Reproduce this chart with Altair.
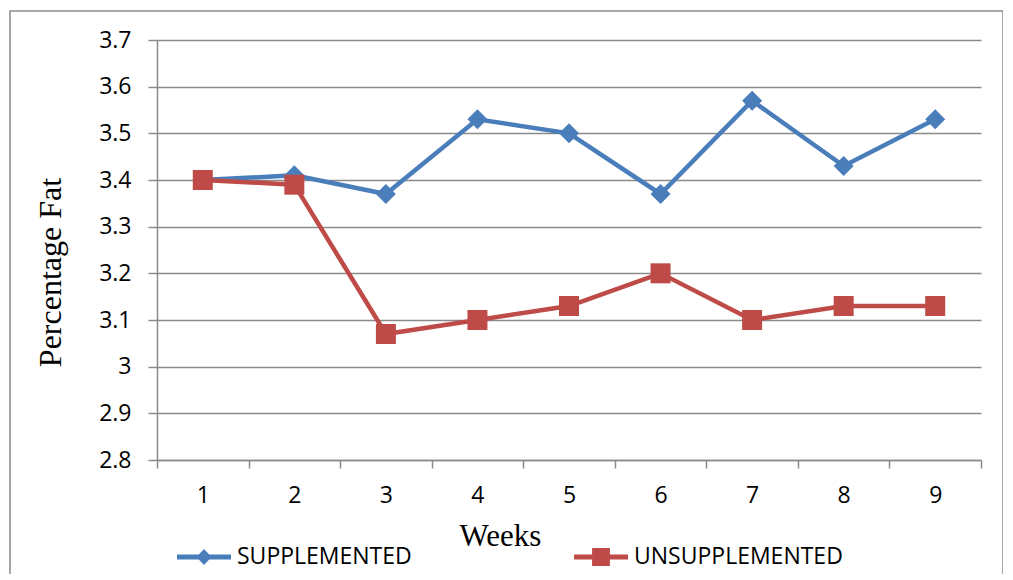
import altair as alt
import pandas as pd

weeks = [1, 2, 3, 4, 5, 6, 7, 8, 9]
series_names = ["SUPPLEMENTED", "UNSUPPLEMENTED"]
supplemented = [3.40, 3.41, 3.37, 3.53, 3.50, 3.37, 3.57, 3.43, 3.53]
unsupplemented = [3.40, 3.39, 3.07, 3.10, 3.13, 3.20, 3.10, 3.13, 3.13]
y_ticks = [2.8, 2.9, 3.0, 3.1, 3.2, 3.3, 3.4, 3.5, 3.6, 3.7]
x_ticks = [0.5, 1.5, 2.5, 3.5, 4.5, 5.5, 6.5, 7.5, 8.5, 9.5]

colors = ["#4A7EBB", "#BE4B48"]
shapes = ["diamond", "square"]
legend_paths = [
    "M-1,-0.09L1,-0.09L1,0.09L-1,0.09Z M0,-0.3L0.28,0L0,0.3L-0.28,0Z",
    "M-1,-0.09L1,-0.09L1,0.09L-1,0.09Z M-0.33,-0.33L0.33,-0.33L0.33,0.33L-0.33,0.33Z",
]

rows = []
for w, v in zip(weeks, supplemented):
    rows.append({"week": w, "value": v, "series": series_names[0]})
for w, v in zip(weeks, unsupplemented):
    rows.append({"week": w, "value": v, "series": series_names[1]})
df = pd.DataFrame(rows)

W, H = 824, 420
GRID = "#8A8A8A"

x_enc = alt.X(
    "week:Q",
    scale=alt.Scale(domain=[0.5, 9.5], nice=False, zero=False),
    axis=alt.Axis(
        values=x_ticks,
        labelExpr="datum.value < 9 ? format(datum.value + 0.5, 'd') : ''",
        labelOffset=W / 18,
        labelFlush=False,
        labelOverlap=False,
        labelBaseline="middle",
        labelPadding=27,
        labelFont="Open Sans",
        labelFontSize=23,
        labelColor="#000000",
        tickSize=8,
        tickColor=GRID,
        tickWidth=1.5,
        domainColor=GRID,
        domainWidth=1.5,
        grid=False,
        title="Weeks",
        titleFont="Liberation Serif",
        titleFontSize=31,
        titleFontWeight="normal",
        titleColor="#000000",
        titleX=343,
        titleY=76,
        titleBaseline="middle",
        titleAlign="center",
    ),
)
y_enc = alt.Y(
    "value:Q",
    scale=alt.Scale(domain=[2.8, 3.7], nice=False, zero=False),
    axis=alt.Axis(
        values=y_ticks,
        format=".1~f",
        labelFont="Open Sans",
        labelFontSize=23,
        labelColor="#000000",
        labelPadding=17,
        tickSize=9,
        tickColor=GRID,
        tickWidth=1.5,
        domainColor=GRID,
        domainWidth=1.5,
        grid=True,
        gridColor=GRID,
        gridWidth=1.5,
        title="Percentage Fat",
        titleFont="Liberation Serif",
        titleFontSize=32,
        titleFontWeight="normal",
        titleColor="#000000",
        titleAngle=270,
        titleX=-107,
        titleY=232,
        titleBaseline="middle",
        titleAlign="center",
    ),
)

color_scale = alt.Scale(domain=series_names, range=colors)

base = alt.Chart(df)

border = alt.Chart(pd.DataFrame({"k": [0]})).mark_rect(
    fillOpacity=0, stroke="#8C8C8C", strokeWidth=1.5
).encode(
    x=alt.value(-147), x2=alt.value(846), y=alt.value(-29), y2=alt.value(600)
)

legend_props = dict(
    orient="none",
    legendX=20,
    legendY=490,
    direction="horizontal",
    title=None,
    symbolSize=2916,
    symbolStrokeWidth=0,
    symbolOpacity=1,
    labelFont="Open Sans",
    labelFontSize=23,
    labelColor="#000000",
    labelOffset=6,
    labelLimit=0,
    columnPadding=162,
    padding=0,
)

legend_layer = base.transform_filter("false").mark_point(filled=True, opacity=1).encode(
    x=x_enc, y=y_enc,
    color=alt.Color("series:N", scale=color_scale, legend=alt.Legend(**legend_props)),
    shape=alt.Shape(
        "series:N",
        scale=alt.Scale(domain=series_names, range=legend_paths),
        legend=alt.Legend(**legend_props),
    ),
)

layers = [legend_layer, border]
for name, shp in zip(series_names, shapes):
    sub = base.transform_filter(alt.datum.series == name)
    line = sub.mark_line(strokeWidth=4.5).encode(
        x=x_enc, y=y_enc,
        color=alt.Color("series:N", scale=color_scale, legend=None),
    )
    pts = sub.mark_point(filled=True, shape=shp, size=400, opacity=1).encode(
        x=x_enc, y=y_enc,
        color=alt.Color("series:N", scale=color_scale, legend=None),
    )
    layers += [line, pts]

chart = alt.layer(*layers).properties(
    width=W,
    height=H,
    autosize=alt.AutoSizeParams(type="none"),
    padding={"left": 149, "top": 32, "right": 22, "bottom": 114},
    background="white",
).configure_view(stroke=None)

chart.save("out.html", embed_options={"renderer": "svg", "actions": False})
